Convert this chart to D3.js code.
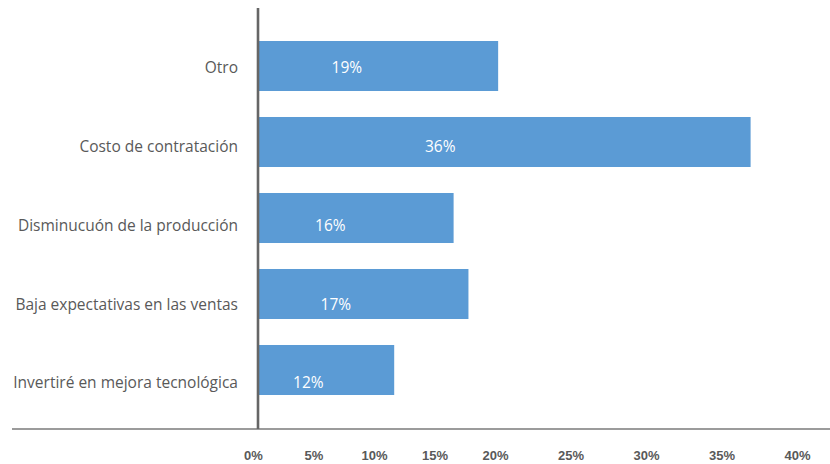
<!DOCTYPE html>
<html>
<head>
<meta charset="utf-8">
<script src="https://cdn.jsdelivr.net/npm/d3@7"></script>
<style>
  html, body { margin: 0; padding: 0; background: #ffffff; }
  svg { display: block; }
</style>
</head>
<body>
<svg id="chart" width="830" height="464"></svg>
<script>
// ---- data ----
const categories = [
  "Otro",
  "Costo de contratación",
  "Disminucuón de la producción",
  "Baja expectativas en las ventas",
  "Invertiré en mejora tecnológica"
];
const values = [19, 36, 16, 17, 12];
const valueLabels = ["19%", "36%", "16%", "17%", "12%"];
const tickValues = [0, 5, 10, 15, 20, 25, 30, 35, 40];
const tickLabels = ["0%", "5%", "10%", "15%", "20%", "25%", "30%", "35%", "40%"];

// ---- layout ----
const W = 830, H = 464;
const axisX = 258;
const baseY = 429;
const barColor = "#5b9bd5";
const textColor = "#595959";
const labelFont = "'Open Sans', 'Noto Sans', sans-serif";

const svg = d3.select("#chart");

// scale used to draw bars
const xBar = d3.scaleLinear().domain([0, 40]).range([216, 810]);
// scale used for the (unevenly spaced) tick labels
const xTick = d3.scaleLinear().domain([0, 20, 40]).range([253, 495, 797]);

const yBar = d3.scaleBand().domain(categories).range([28, 408])
  .paddingInner(0.342).paddingOuter(0.171);
const yLabel = d3.scalePoint().domain(categories).range([68, 383]);

// bars
svg.append("g").selectAll("rect")
  .data(categories)
  .join("rect")
  .attr("x", axisX + 1)
  .attr("y", d => yBar(d))
  .attr("width", (d, i) => xBar(values[i]) - axisX - 1)
  .attr("height", yBar.bandwidth())
  .attr("fill", barColor);

// value labels
svg.append("g").selectAll("text")
  .data(categories)
  .join("text")
  .attr("x", (d, i) => axisX + 0.37 * (xBar(values[i]) - axisX))
  .attr("y", d => yLabel(d))
  .attr("dy", "0.35em")
  .attr("text-anchor", "middle")
  .attr("fill", "#ffffff")
  .style("font-family", labelFont)
  .style("font-size", "15.5px")
  .text((d, i) => valueLabels[i]);

// category labels
svg.append("g").selectAll("text")
  .data(categories)
  .join("text")
  .attr("x", 238)
  .attr("y", d => yLabel(d))
  .attr("dy", "0.35em")
  .attr("text-anchor", "end")
  .attr("fill", textColor)
  .style("font-family", labelFont)
  .style("font-size", "15.5px")
  .text(d => d);

// horizontal base line
svg.append("line")
  .attr("x1", 12).attr("x2", W)
  .attr("y1", baseY).attr("y2", baseY)
  .attr("stroke", "#7a7a7a").attr("stroke-width", 1.5);

// vertical axis line
svg.append("line")
  .attr("x1", axisX).attr("x2", axisX)
  .attr("y1", 8).attr("y2", baseY)
  .attr("stroke", "#666666").attr("stroke-width", 2.6);

// tick labels
const xAxis = d3.axisBottom(xTick)
  .tickValues(tickValues)
  .tickFormat((d, i) => tickLabels[i])
  .tickSize(0)
  .tickPadding(22);
const gx = svg.append("g").attr("transform", `translate(0,${baseY})`).call(xAxis);
gx.select(".domain").remove();
gx.selectAll("text")
  .attr("fill", textColor)
  .style("font-family", "'Liberation Sans', Arial, sans-serif")
  .style("font-weight", "bold")
  .style("font-size", "13px");
</script>
</body>
</html>
